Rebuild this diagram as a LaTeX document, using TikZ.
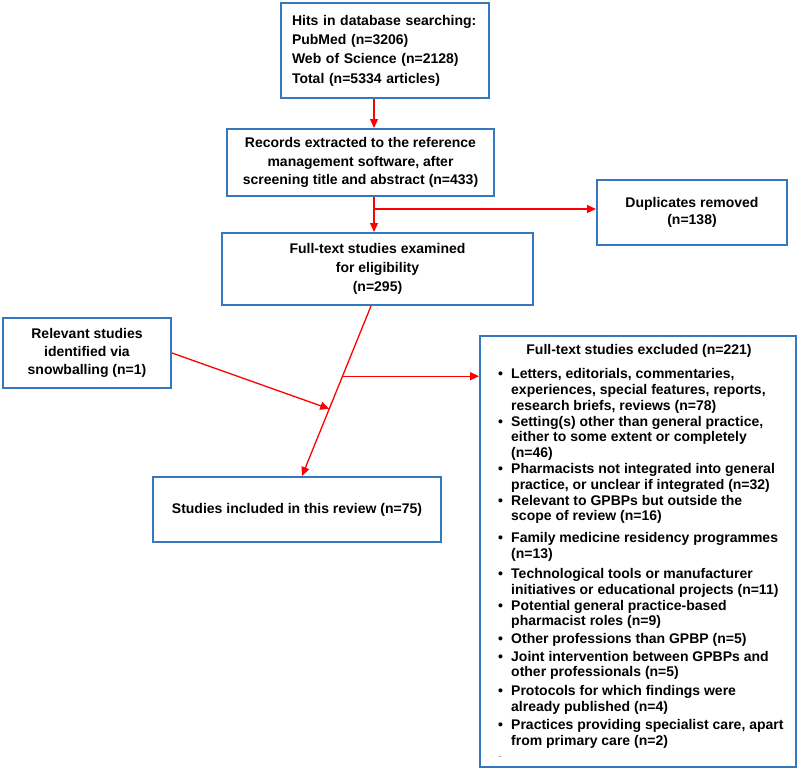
\documentclass[tikz,border=0pt]{standalone}
\usepackage{fontspec}
\setmainfont{Liberation Sans}
\usetikzlibrary{arrows.meta,calc}
\definecolor{boxblue}{RGB}{52,120,190}
\definecolor{arrred}{RGB}{255,0,0}
\newcommand\itemfirst{\makebox[13pt][l]{•}}
\newcommand\itemcont{\hspace*{13pt}}
\begin{document}
\begin{tikzpicture}[x=1pt,y=-1pt,
  box/.style={draw=boxblue,line width=2pt,inner sep=0pt,align=center,fill=white},
  arr/.style={draw=arrred,line width=1.3pt,-{Triangle[length=9pt,width=8pt]}},
  fs/.style={font=\fontsize{14}{#1}\selectfont\bfseries},
  itm/.style={anchor=north west,inner sep=0pt,align=left,font=\fontsize{14}{15.6}\selectfont\bfseries}]
\useasboundingbox (0,0) rectangle (800,771);
\fill[white] (0,0) rectangle (800,771);

\node[box,fs=19.3,minimum width=208pt,minimum height=95pt,text width=186pt,inner xsep=11pt,align=left] (hits) at (385,50.5)
  {Hits in database searching:\\PubMed (n=3206)\\Web of Science (n=2128)\\Total (n=5334 articles)};
\node[box,fs=18.5,minimum width=267pt,minimum height=67pt] (rec) at (360.5,162.5)
  {Records extracted to the reference\\management software, after\\screening title and abstract (n=433)};
\node[box,fs=17,minimum width=190pt,minimum height=65pt] (dup) at (692,212.5)
  {Duplicates removed\\(n=138)};
\node[box,fs=19,minimum width=311pt,minimum height=72pt] (full) at (377.5,269)
  {Full-text studies examined\\for eligibility\\(n=295)};
\node[box,fs=18,minimum width=168pt,minimum height=70pt] (snow) at (87,353)
  {Relevant studies\\identified via\\snowballing (n=1)};
\node[box,fs=18,minimum width=288pt,minimum height=65pt] (fin) at (297,509.5)
  {Studies included in this review (n=75)};
\node[box,minimum width=316pt,minimum height=431pt] (excl) at (638,551.5) {};
\node[inner sep=0pt,fs=18] (exh) at (639,351) {Full-text studies excluded (n=221)};

\node[itm] (i1) at (498,367.7) {\strut\itemfirst Letters, editorials, commentaries,\\\itemcont experiences, special features, reports,\\\itemcont research briefs, reviews (n=78)};
\node[itm] (i2) at (498,415.0) {\strut\itemfirst Setting(s) other than general practice,\\\itemcont either to some extent or completely\\\itemcont (n=46)};
\node[itm] (i3) at (498,462.3) {\strut\itemfirst Pharmacists not integrated into general\\\itemcont practice, or unclear if integrated (n=32)};
\node[itm] (i4) at (498,494.0) {\strut\itemfirst Relevant to GPBPs but outside the\\\itemcont scope of review (n=16)};
\node[itm] (i5) at (498,531.7) {\strut\itemfirst Family medicine residency programmes\\\itemcont (n=13)};
\node[itm] (i6) at (498,567.4) {\strut\itemfirst Technological tools or manufacturer\\\itemcont initiatives or educational projects (n=11)};
\node[itm] (i7) at (498,599.1) {\strut\itemfirst Potential general practice-based\\\itemcont pharmacist roles (n=9)};
\node[itm] (i8) at (498,632.8) {\strut\itemfirst Other professions than GPBP (n=5)};
\node[itm] (i9) at (498,649.9) {\strut\itemfirst Joint intervention between GPBPs and\\\itemcont other professionals (n=5)};
\node[itm] (i10) at (498,684.6) {\strut\itemfirst Protocols for which findings were\\\itemcont already published (n=4)};
\node[itm] (i11) at (498,718.3) {\strut\itemfirst Practices providing specialist care, apart\\\itemcont from primary care (n=2)};
\node[inner sep=0pt,font=\fontsize{9}{9}\selectfont,text=gray] (dash) at (500,758) {-};

\coordinate (c1) at (374,0);
\draw[arr] (hits.south -| c1) -- (rec.north -| c1);
\draw[arr] (rec.south -| c1) -- (full.north -| c1);
\coordinate (j1) at (374,209);
\draw[arr] (j1) -- (dup.west |- j1);
\coordinate (d0) at (371,0);
\coordinate (d1) at (302,0);
\coordinate (s) at (full.south -| d0);
\coordinate (e) at (fin.north -| d1);
\draw[arr] (s) -- (e);
\coordinate (j2) at ($(s)!0.413!(e)$);
\draw[arr] (j2) -- (excl.west |- j2);
\coordinate (j3) at ($(s)!0.605!(e)$);
\draw[arr] (snow.east) -- (j3);
\end{tikzpicture}
\end{document}
